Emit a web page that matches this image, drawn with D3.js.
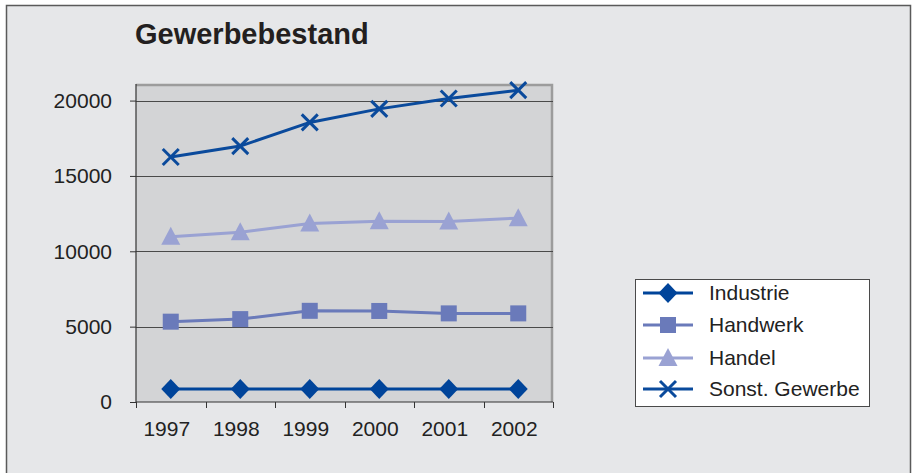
<!DOCTYPE html>
<html><head><meta charset="utf-8">
<script src="https://cdn.jsdelivr.net/npm/d3@7"></script>
<style>body{margin:0;background:#fff}svg{display:block}</style>
</head><body>
<svg id="c" width="914" height="473"></svg>
<script>
const years = ["1997","1998","1999","2000","2001","2002"];
const industrie = [860, 860, 860, 860, 860, 860];
const handwerk = [5330, 5500, 6050, 6040, 5880, 5880];
const handel = [10960, 11270, 11850, 12000, 11980, 12200];
const sonstGewerbe = [16260, 16980, 18550, 19450, 20140, 20690];
const yTicks = [0, 5000, 10000, 15000, 20000];
const seriesNames = ["Industrie","Handwerk","Handel","Sonst. Gewerbe"];

const series = [
  {name: seriesNames[0], values: industrie, color: "#00449a", sym: "diamond"},
  {name: seriesNames[1], values: handwerk, color: "#6a7aba", sym: "square"},
  {name: seriesNames[2], values: handel, color: "#9aa2d3", sym: "triangle"},
  {name: seriesNames[3], values: sonstGewerbe, color: "#0a4a9c", sym: "cross"}
];

const svg = d3.select("#c");
const font = "Liberation Sans, Arial, sans-serif";
svg.append("rect").attr("x",0).attr("y",0).attr("width",914).attr("height",473).attr("fill","#ffffff");
svg.append("rect").attr("x",6.5).attr("y",5.5).attr("width",904).attr("height",480)
  .attr("fill","#e6e7e9").attr("stroke","#5a5a5a").attr("stroke-width",1.5);

const L=136, R=553, T=84, B=402;
const x = d3.scaleBand().domain(years).range([L,R]);
const y = d3.scaleLinear().domain([0,21100]).range([B,T]);

svg.append("rect").attr("x",L).attr("y",T).attr("width",R-L).attr("height",B-T).attr("fill","#d3d4d6");
svg.append("path").attr("d",`M${L},${T+1}H${R-1}V${B}`).attr("fill","none").attr("stroke","#9c9c9c").attr("stroke-width",2.5);

svg.append("g").selectAll("line").data(yTicks.filter(d=>d>0)).join("line")
  .attr("x1",L).attr("x2",R).attr("y1",d=>Math.round(y(d))+0.5).attr("y2",d=>Math.round(y(d))+0.5)
  .attr("stroke","#4a4a4a").attr("stroke-width",1);

const ya = svg.append("g").attr("transform",`translate(${L},0)`)
  .call(d3.axisLeft(y).tickValues(yTicks).tickSize(6).tickPadding(18).tickFormat(d3.format("d")));
const xa = svg.append("g").attr("transform",`translate(0,${B})`)
  .call(d3.axisBottom(x).tickSize(0).tickPadding(19));
xa.selectAll("text").attr("dx",-4);
svg.append("g").selectAll("line").data(d3.range(years.length+1)).join("line")
  .attr("x1",i=>Math.round(L+i*x.step())+0.5).attr("x2",i=>Math.round(L+i*x.step())+0.5)
  .attr("y1",B).attr("y2",B+6).attr("stroke","#333").attr("stroke-width",1);
[ya,xa].forEach(a=>{
  a.selectAll("text").attr("font-family",font).attr("font-size",21).attr("fill","#222");
  a.selectAll("line").attr("stroke","#333");
  a.select(".domain").attr("stroke","#333").attr("stroke-width",1.2);
});
ya.select(".domain").attr("d",`M0,${T}V${B}`);
xa.select(".domain").attr("d",`M${L},0H${R}`);

function drawSym(g, sym, color){
  if(sym==="diamond"){
    g.append("path").attr("d","M0,-10L9.5,0L0,10L-9.5,0Z").attr("fill",color);
  } else if(sym==="square"){
    g.append("rect").attr("x",-8).attr("y",-8).attr("width",16).attr("height",16).attr("fill",color);
  } else if(sym==="triangle"){
    g.append("path").attr("d","M0,-10L9.5,8L-9.5,8Z").attr("fill",color);
  } else {
    g.append("path").attr("d","M-8,-8L8,8M-8,8L8,-8").attr("stroke",color).attr("stroke-width",3).attr("fill","none");
  }
}

const line = d3.line().x((d,i)=>x(years[i])+x.bandwidth()/2).y(d=>y(d));
series.forEach(s=>{
  svg.append("path").attr("d",line(s.values)).attr("fill","none").attr("stroke",s.color).attr("stroke-width",3);
  s.values.forEach((v,i)=>{
    const g = svg.append("g").attr("transform",`translate(${x(years[i])+x.bandwidth()/2},${y(v)})`);
    drawSym(g, s.sym, s.color);
  });
});

svg.append("text").attr("x",135).attr("y",44).attr("font-family",font).attr("font-weight","bold")
  .attr("font-size",29).attr("fill","#231f20").text("Gewerbebestand");

svg.append("rect").attr("x",635.5).attr("y",279.5).attr("width",234).attr("height",127)
  .attr("fill","#ffffff").attr("stroke","#4a4a4a").attr("stroke-width",1);
const ly = [293, 325, 358, 389];
series.forEach((s,i)=>{
  const g = svg.append("g").attr("transform",`translate(668,${ly[i]})`);
  g.append("line").attr("x1",-25).attr("x2",25).attr("stroke",s.color).attr("stroke-width",3);
  drawSym(g, s.sym, s.color);
  svg.append("text").attr("x",709).attr("y",ly[i]+7).attr("font-family",font).attr("font-size",21)
    .attr("fill","#222").text(s.name);
});
</script>
</body></html>
